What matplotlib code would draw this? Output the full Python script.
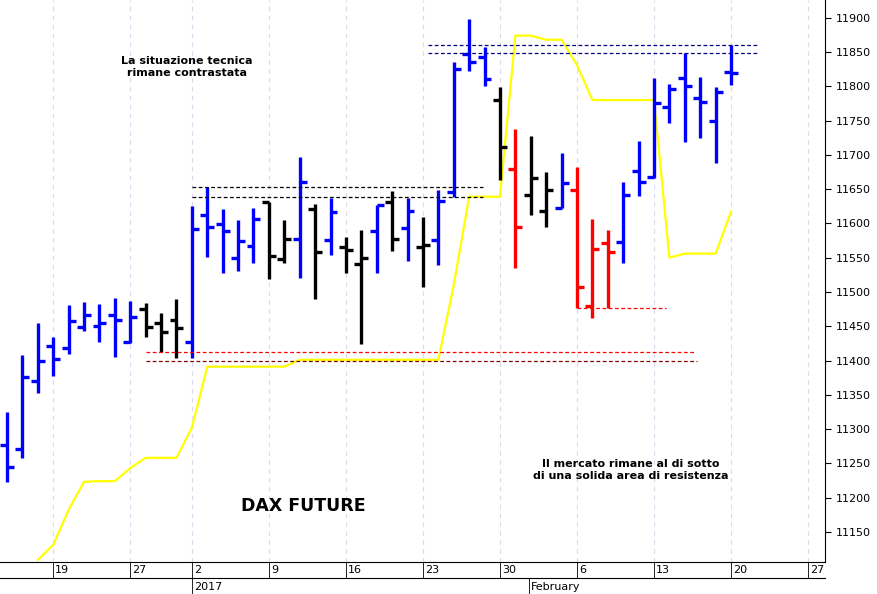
import matplotlib
matplotlib.use("Agg")
import matplotlib.pyplot as plt
from matplotlib.lines import Line2D

opens  = [11277,11271,11370,11421,11418,11449,11451,11467,11427,11475,11455,11459,11427,11613,11599,11550,11567,11631,11548,11577,11621,11576,11566,11541,11589,11631,11594,11565,11576,11646,11847,11843,11780,11680,11642,11618,11623,11649,11480,11572,11573,11677,11668,11770,11812,11783,11750,11821]
highs  = [11325,11408,11455,11434,11481,11486,11483,11491,11487,11484,11469,11490,11626,11653,11621,11605,11623,11631,11605,11697,11629,11637,11580,11591,11627,11648,11637,11610,11649,11836,11899,11858,11799,11738,11728,11675,11703,11683,11607,11591,11661,11720,11812,11804,11849,11814,11799,11861]
lows   = [11222,11258,11353,11378,11410,11443,11427,11405,11426,11434,11413,11404,11404,11551,11528,11531,11542,11519,11542,11521,11490,11554,11528,11424,11528,11560,11545,11507,11540,11639,11823,11801,11664,11535,11612,11595,11623,11477,11462,11477,11542,11640,11667,11747,11719,11725,11688,11802]
closes = [11245,11376,11399,11402,11458,11467,11455,11459,11464,11449,11442,11448,11592,11595,11589,11575,11607,11553,11577,11661,11558,11617,11561,11550,11627,11577,11618,11568,11633,11826,11836,11811,11712,11595,11666,11649,11659,11507,11563,11558,11642,11661,11775,11796,11801,11777,11792,11820]
colors = ["b"]*9 + ["k"]*3 + ["b"]*5 + ["k","k","b","k","b","k","k","b","k","b","k","b","b","b","b","k","r","k","k","b","r","r","r"] + ["b"]*8
yellow = [None,None,11109,11131,11182,11223,11224,11224,11243,11258,11258,11258,11302,11391,11391,11391,11391,11391,11391,11401,11401,11401,11401,11401,11401,11401,11401,11401,11401,11510,11639,11639,11639,11874,11874,11868,11868,11831,11780,11780,11780,11780,11780,11550,11556,11556,11556,11617]
tick_idx = [3,8,12,17,22,27,32,37,42,47,52]
tick_lab = ["19","27","2","9","16","23","30","6","13","20","27"]
month_idx = [12,33.9]
month_lab = ["2017","February"]

cmap = {"b":"#0000ff","k":"#000000","r":"#ff0000"}
W,H = 877,594
fig = plt.figure(figsize=(W/100,H/100), dpi=100)
ax = fig.add_axes([0, 32/H, 825/W, 562/H])
x0 = -0.455; x1 = 53.1
ax.set_xlim(x0,x1); ax.set_ylim(11106,11926)
for t in tick_idx:
    ax.axvline(t, color="#d8d8ee", lw=0.8, ls=(0,(4,4)), zorder=0)
n = len(opens)
for i in range(n):
    c = cmap[colors[i]]
    ax.plot([i,i],[lows[i],highs[i]], color=c, lw=2.4, solid_capstyle="butt")
    ax.plot([i-0.45,i],[opens[i],opens[i]], color=c, lw=2.4, solid_capstyle="butt")
    ax.plot([i,i+0.45],[closes[i],closes[i]], color=c, lw=2.4, solid_capstyle="butt")
yx = [i for i in range(n) if yellow[i] is not None]
ax.plot(yx,[yellow[i] for i in yx], color="#ffff00", lw=1.6, zorder=1)
ds = (0,(3,2))
ax.plot([12,30.9],[11653,11653], color="k", lw=0.9, ls=ds)
ax.plot([12,30.9],[11639,11639], color="k", lw=0.9, ls=ds)
ax.plot([27.3,48.8],[11861,11861], color="#000080", lw=0.9, ls=ds)
ax.plot([27.3,48.8],[11849,11849], color="#000080", lw=0.9, ls=ds)
ax.plot([9,44.6],[11413,11413], color="r", lw=0.9, ls=ds)
ax.plot([9,44.8],[11399,11399], color="#800000", lw=0.9, ls=ds)
ax.plot([37,42.8],[11477,11477], color="r", lw=0.9, ls=ds)

ax.yaxis.tick_right()
ax.set_yticks(range(11150,11901,50))
ax.tick_params(axis="y", labelsize=8, length=4, direction="out")
ax.set_xticks([])
for s in ["top","left"]:
    ax.spines[s].set_visible(False)

def T(px,py,s,**kw):
    fig.text(px/W, 1-py/H, s, **kw)
T(187,67,"La situazione tecnica\nrimane contrastata", ha="center", va="center", fontsize=8, fontweight="bold", linespacing=1.3)
T(303,506,"DAX FUTURE", ha="center", va="center", fontsize=12.5, fontweight="bold")
T(631,470,"Il mercato rimane al di sotto\ndi una solida area di resistenza", ha="center", va="center", fontsize=8, fontweight="bold", linespacing=1.3)

def xp(i): return (i-x0)/(x1-x0)*825
fig.add_artist(Line2D([0,825/W],[1-578/H,1-578/H], color="k", lw=0.8))
for t,l in zip(tick_idx,tick_lab):
    px = xp(t)
    fig.add_artist(Line2D([px/W,px/W],[1-562/H,1-578/H], color="k", lw=0.6))
    T(px+2,570,l, ha="left", va="center", fontsize=8)
for t,l in zip(month_idx,month_lab):
    px = xp(t)
    fig.add_artist(Line2D([px/W,px/W],[1-578/H,0], color="k", lw=0.6))
    T(px+2,587,l, ha="left", va="center", fontsize=8)
fig.savefig("out.png", dpi=100)
